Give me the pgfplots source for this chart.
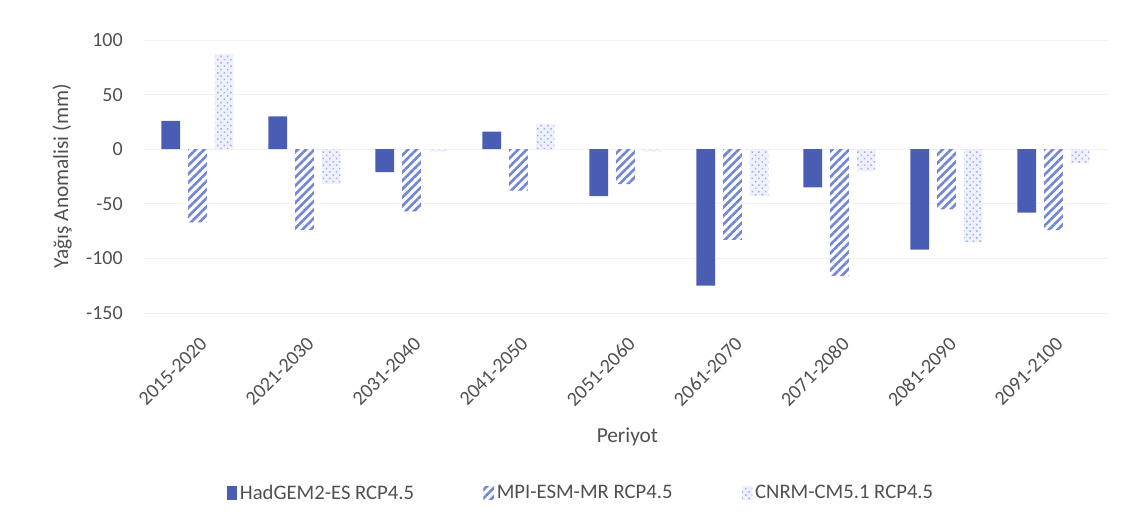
\documentclass[border=0pt]{standalone}
\usepackage{fontspec}
\setmainfont{Carlito}
\usepackage{pgfplots}
\pgfplotsset{compat=1.18}
\usetikzlibrary{patterns.meta}
\definecolor{had}{HTML}{4A5DB5}
\definecolor{mpi}{HTML}{7486D6}
\definecolor{cnrm}{HTML}{9FAFE8}
\definecolor{cnrmbg}{HTML}{EEF1FB}
\definecolor{txt}{HTML}{505050}
\definecolor{gridc}{HTML}{F2F2F2}
\begin{document}
\begin{tikzpicture}
\path[use as bounding box] (-108pt,-151.5pt) rectangle (732.75pt,234.75pt);
\begin{axis}[
  at={(0,0)}, anchor=south west,
  scale only axis, width=722.25pt, height=204.75pt,
  ybar=6pt, bar width=14pt,
  xmin=-0.5, xmax=8.5, ymin=-150, ymax=100,
  ytick={-150,-100,-50,0,50,100},
  xtick={0,1,2,3,4,5,6,7,8},
  xticklabels={2015-2020,2021-2030,2031-2040,2041-2050,2051-2060,2061-2070,2071-2080,2081-2090,2091-2100},
  axis line style={draw=none},
  major tick length=0pt,
  ymajorgrids, grid style={color=gridc, line width=0.6pt},
  /pgf/number format/assume math mode=true,
  tick label style={font=\fontsize{15}{18}\selectfont, text=txt},
  yticklabel style={inner sep=0pt, anchor=east, xshift=-15.75pt},
  xticklabel style={xshift=1pt, yshift=-17pt, rotate=45, anchor=north east, inner sep=0pt},
  ylabel={Yağış Anomalisi (mm)},
  ylabel style={at={(axis description cs:-0.0851,0.5)}, anchor=center, font=\fontsize{16}{19}\selectfont, text=txt},
  xlabel={Periyot},
  xlabel style={at={(axis description cs:0.502,-0.452)}, anchor=center, font=\fontsize{16}{19}\selectfont, text=txt},
  legend columns=3,
  legend style={at={(axis description cs:0.454,-0.659)}, anchor=center, draw=none, fill=none,
    font=\fontsize{15.5}{18}\selectfont, text=txt,
    /tikz/every even column/.append style={column sep=50pt}},
  legend image code/.code={\path[#1] (0pt,-5pt) rectangle (8pt,5pt);},
]
\addplot[draw=none, fill=had] coordinates {(0,26) (1,30) (2,-21) (3,16) (4,-43) (5,-125) (6,-35) (7,-92) (8,-58)};
\addlegendentry{HadGEM2-ES RCP4.5}
\addplot[draw=none, pattern={Lines[angle=45,distance=4.5pt,line width=2pt]}, pattern color=mpi] coordinates {(0,-67) (1,-74) (2,-57) (3,-38) (4,-32) (5,-83) (6,-116) (7,-55) (8,-74)};
\addlegendentry{MPI-ESM-MR RCP4.5}
\addplot[draw=none, preaction={fill=cnrmbg}, pattern={Dots[radius=0.8pt,distance=3.5pt,angle=45]}, pattern color=cnrm] coordinates {(0,87) (1,-32) (2,-2) (3,23) (4,-2) (5,-43) (6,-20) (7,-85) (8,-13)};
\addlegendentry{CNRM-CM5.1 RCP4.5}
\end{axis}
\end{tikzpicture}
\end{document}
